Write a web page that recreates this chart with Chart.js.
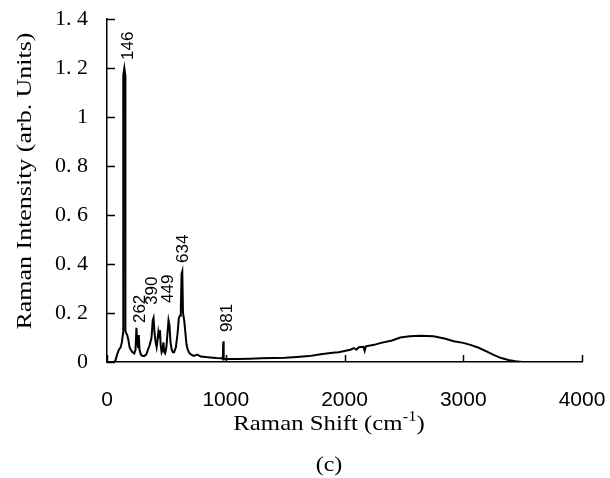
<!DOCTYPE html>
<html>
<head>
<meta charset="utf-8">
<script src="https://cdn.jsdelivr.net/npm/chart.js@4.4.1/dist/chart.umd.min.js"></script>
<style>
  html, body { margin: 0; padding: 0; background: #fff; }
  #wrap { width: 610px; height: 478px; }
</style>
</head>
<body>
<div id="wrap"><canvas id="raman" width="610" height="478"></canvas></div>
<script>
// spectrum (cm-1 / arb. units)
const shift = [60, 70, 85, 100, 115, 125, 136, 137, 146, 154, 155, 160, 170, 180, 190, 200, 215, 230, 240,
  248, 254, 262, 268, 274, 285, 300, 315, 330, 345, 360, 375, 385, 392, 400, 410, 418, 426, 432, 438,
  446, 452, 460, 468, 475, 482, 490, 500, 510, 518, 526, 535, 545, 555, 565, 580, 595, 605, 615, 622,
  628, 634, 640, 650, 660, 670, 680, 695, 710, 730, 760, 790, 830, 870, 920, 960, 975, 979, 981, 984,
  1000, 1100, 1200, 1300, 1400, 1500, 1600, 1700, 1800, 1850, 1900, 1950, 2000, 2050, 2080, 2100, 2120, 2160, 2170, 2180,
  2250, 2300, 2400, 2470, 2550, 2640, 2750, 2850, 2920, 3000, 3060, 3130, 3200, 3260, 3320, 3380, 3440, 3500];
const intensity = [0, 0.005, 0.03, 0.05, 0.06, 0.08, 0.12, 1.17, 1.2, 1.17, 0.13, 0.12, 0.11, 0.09, 0.06, 0.05, 0.04, 0.035, 0.05,
  0.14, 0.08, 0.06, 0.11, 0.05, 0.03, 0.025, 0.025, 0.03, 0.05, 0.07, 0.10, 0.17, 0.18, 0.12, 0.08, 0.06, 0.09, 0.12, 0.10,
  0.13, 0.07, 0.04, 0.05, 0.08, 0.04, 0.035, 0.06, 0.12, 0.17, 0.15, 0.08, 0.05, 0.04, 0.04, 0.06, 0.12, 0.18, 0.19, 0.22,
  0.36, 0.37, 0.2, 0.17, 0.12, 0.07, 0.05, 0.035, 0.03, 0.025, 0.03, 0.022, 0.02, 0.018, 0.016, 0.015, 0.013, 0.08, 0.085, 0.01,
  0.012, 0.012, 0.013, 0.015, 0.016, 0.017, 0.02, 0.024, 0.032, 0.035, 0.038, 0.04, 0.045, 0.05, 0.057, 0.05, 0.06, 0.062, 0.045, 0.064,
  0.07, 0.077, 0.088, 0.1, 0.105, 0.107, 0.105, 0.095, 0.085, 0.078, 0.07, 0.058, 0.042, 0.028, 0.016, 0.008, 0.003, 0];

// peak annotations
const peakText = ['146', '262', '390', '449', '634', '981'];
const peakAtX = [177, 278, 379, 514, 640, 1010];
const peakAtY = [1.233, 0.159, 0.233, 0.241, 0.404, 0.122];

const xTicks = [0, 1000, 2000, 3000, 4000];

const serif = '"Liberation Serif", "DejaVu Serif", serif';
const sans = '"Liberation Sans", Arial, sans-serif';

// wide serif text, like the scanned figure
function wideText(ctx, s, x, y, stretch) {
  ctx.save();
  ctx.translate(x, y);
  ctx.scale(stretch, 1);
  ctx.fillText(s, 0, 0);
  ctx.restore();
}

// ticks inside the axes + annotations + titles
const decorations = {
  id: 'decorations',
  afterDraw(chart) {
    const { ctx, chartArea, scales } = chart;
    const xs = scales.x, ys = scales.y;
    ctx.save();
    ctx.strokeStyle = '#000';
    ctx.lineWidth = 1.5;
    ctx.beginPath();
    ys.ticks.forEach(t => {
      const y = Math.round(ys.getPixelForValue(t.value)) + 0.5;
      ctx.moveTo(chartArea.left, y);
      ctx.lineTo(chartArea.left + 8, y);
    });
    xTicks.forEach(v => {
      const x = Math.round(xs.getPixelForValue(v)) + 0.5;
      ctx.moveTo(x, chartArea.bottom);
      ctx.lineTo(x, chartArea.bottom - 7);
    });
    ctx.stroke();

    // rotated peak labels
    ctx.fillStyle = '#000';
    ctx.font = '17px ' + sans;
    ctx.textAlign = 'left';
    ctx.textBaseline = 'middle';
    peakText.forEach((s, i) => {
      const x = xs.getPixelForValue(peakAtX[i]);
      const y = ys.getPixelForValue(peakAtY[i]);
      ctx.save();
      ctx.translate(x, y);
      ctx.rotate(-Math.PI / 2);
      ctx.fillText(s, 0, 0);
      ctx.restore();
    });

    // x title with superscript
    const st = 1.18;
    ctx.textBaseline = 'alphabetic';
    const a = 'Raman Shift (cm', b = '-1', c = ')';
    ctx.font = '21px ' + serif;
    const wa = ctx.measureText(a).width * st;
    const wc = ctx.measureText(c).width * st;
    ctx.font = '14px ' + serif;
    const wb = ctx.measureText(b).width * st;
    const cx = 329;
    const x0 = cx - (wa + wb + wc) / 2;
    const base = 430;
    ctx.font = '21px ' + serif;
    wideText(ctx, a, x0, base, st);
    ctx.font = '14px ' + serif;
    wideText(ctx, b, x0 + wa, base - 9, st);
    ctx.font = '21px ' + serif;
    wideText(ctx, c, x0 + wa + wb, base, st);

    // figure tag
    ctx.textAlign = 'center';
    ctx.font = '20px ' + serif;
    wideText(ctx, '(c)', cx, 471, 1.2);

    // y title
    ctx.font = '22px ' + serif;
    ctx.textBaseline = 'middle';
    ctx.save();
    ctx.translate(25, 181);
    ctx.rotate(-Math.PI / 2);
    ctx.scale(1.18, 1);
    ctx.fillText('Raman Intensity (arb. Units)', 0, 0);
    ctx.restore();
    ctx.restore();
  }
};

new Chart(document.getElementById('raman'), {
  type: 'line',
  data: {
    datasets: [{
      data: shift.map((s, i) => ({ x: s, y: intensity[i] })),
      borderColor: '#000',
      borderWidth: 2,
      pointRadius: 0,
      tension: 0,
      fill: false
    }]
  },
  options: {
    responsive: false,
    animation: false,
    layout: { padding: { left: 0, right: 28, top: 19, bottom: 0 } },
    plugins: { legend: { display: false }, tooltip: { enabled: false } },
    scales: {
      x: {
        type: 'linear',
        min: 0,
        max: 4000,
        afterBuildTicks: s => { s.ticks = xTicks.map(v => ({ value: v })); },
        afterFit: s => { s.height = 116; s.paddingLeft = 0; s.paddingRight = 0; },
        grid: { display: false, drawTicks: false },
        border: { display: true, color: '#000', width: 1.5 },
        ticks: {
          color: '#000',
          padding: 26,
          maxRotation: 0,
          font: { family: sans, size: 21 },
          callback: v => String(v)
        }
      },
      y: {
        min: 0,
        max: 1.4,
        afterFit: s => { s.width = 107; s.paddingTop = 0; s.paddingBottom = 0; },
        grid: { display: false, drawTicks: false },
        border: { display: true, color: '#000', width: 1.5 },
        ticks: {
          stepSize: 0.2,
          color: '#000',
          padding: 19,
          font: { family: serif, size: 22 },
          callback: v => {
            const s = (+v).toFixed(1);
            if (s.endsWith('.0')) return s.slice(0, -2);
            return s.replace('.', '. ');
          }
        }
      }
    }
  },
  plugins: [decorations]
});
</script>
</body>
</html>
